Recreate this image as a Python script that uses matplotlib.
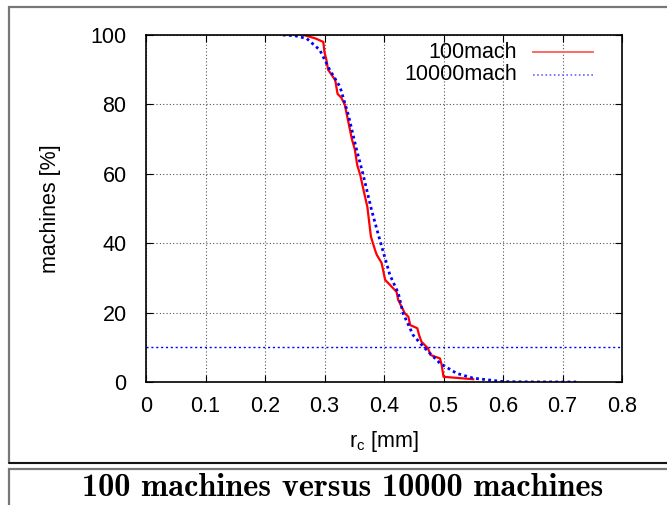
import numpy as np
import matplotlib.pyplot as plt
from matplotlib.patches import Rectangle
from matplotlib.lines import Line2D

# 100 machines curve (staircase-ish)
rc_100 = [0.265, 0.285, 0.298, 0.300, 0.303, 0.306, 0.310, 0.318, 0.322, 0.328, 0.334,
          0.340, 0.346, 0.351, 0.355, 0.360, 0.366, 0.372, 0.378, 0.385, 0.388, 0.396,
          0.400, 0.402, 0.410, 0.421, 0.424, 0.435, 0.441, 0.444, 0.456, 0.459, 0.463,
          0.474, 0.478, 0.494, 0.497, 0.500, 0.550]
pct_100 = [100, 99, 98, 95, 93, 90, 89, 87, 83, 82, 80,
           75, 70, 67, 62.5, 59.7, 55, 50.5, 41.9, 38, 36.6, 34.3,
           31, 29.4, 28, 26, 23.6, 19.8, 18.8, 16.4, 15.5, 13.5, 11.6,
           9.7, 7.8, 6.8, 4.9, 1.5, 0.8]

# 10000 machines curve
rc_10k = [0.230, 0.250, 0.270, 0.292, 0.309, 0.326, 0.340, 0.354, 0.365, 0.379,
          0.393, 0.410, 0.424, 0.432, 0.449, 0.466, 0.494, 0.522, 0.550, 0.601,
          0.650, 0.723]
pct_10k = [100, 99.8, 99, 95.7, 89.9, 85.1, 77, 66.9, 59.7, 49.6,
           40.9, 30.8, 25.6, 19.8, 13.5, 10.2, 5.4, 2.5, 1.1, 0.1,
           0.02, 0]

threshold = 10
xticks = [0, 0.1, 0.2, 0.3, 0.4, 0.5, 0.6, 0.7, 0.8]
yticks = [0, 20, 40, 60, 80, 100]

plt.rcParams['font.family'] = ['Liberation Sans', 'DejaVu Sans']
fs = 15.5

fig = plt.figure(figsize=(6.67, 5.05), dpi=100)

# outer frames (figure box and caption box)
fig.patches.append(Rectangle((9/667, 1-463/505), 700/667, (463-7)/505,
                             transform=fig.transFigure, fill=False,
                             edgecolor='#777777', lw=1.6))
fig.lines.append(Line2D([9/667, 1], [1-463/505, 1-463/505], transform=fig.transFigure,
                        color='black', lw=1.2))
fig.patches.append(Rectangle((9/667, -0.1), 700/667, 0.1+1-469/505,
                             transform=fig.transFigure, fill=False,
                             edgecolor='#777777', lw=1.6))

ax = fig.add_axes([146/667, 1-382/505, (622-146)/667, (382-35)/505])
ax.plot(rc_100, pct_100, color='red', lw=1.6)
ax.plot(rc_10k, pct_10k, color='blue', lw=2.0, ls=(0, (1, 1.2)))
ax.axhline(threshold, color='blue', lw=1.0, ls=(0, (1.5, 2)))

ax.set_xlim(0, 0.8)
ax.set_ylim(0, 100)
ax.set_xticks(xticks)
ax.set_yticks(yticks)
ax.set_xticklabels([f'{t:g}' for t in xticks])
ax.tick_params(direction='in', top=True, right=True, labelsize=fs, length=5)
ax.tick_params(axis='x', pad=10)
ax.tick_params(axis='y', pad=14)
ax.grid(True, color='#555555', ls=(0, (1, 2)), lw=0.8)
for s in ax.spines.values():
    s.set_linewidth(1.2)
ax.set_xlabel('r$_\\mathregular{c}$ [mm]', fontsize=fs, labelpad=9)
ax.set_ylabel('machines [%]', fontsize=fs, labelpad=21)

# legend, gnuplot style (text right aligned, sample to the right)
ax.text(0.78, 0.951, '100mach', transform=ax.transAxes, ha='right', va='center', fontsize=fs)
ax.text(0.78, 0.885, '10000mach', transform=ax.transAxes, ha='right', va='center', fontsize=fs)
ax.plot([0.813, 0.939], [0.951, 0.951], transform=ax.transAxes, color='#ff6666', lw=1.4)
ax.plot([0.813, 0.939], [0.885, 0.885], transform=ax.transAxes, color='#6666ff', lw=1.2,
        ls=(0, (1, 1.5)))

fig.text(343/667, 1-488/505, '100 machines versus 10000 machines', ha='center', va='center',
         fontsize=23.3, family='cmb10')

fig.savefig('out.png', dpi=100)
